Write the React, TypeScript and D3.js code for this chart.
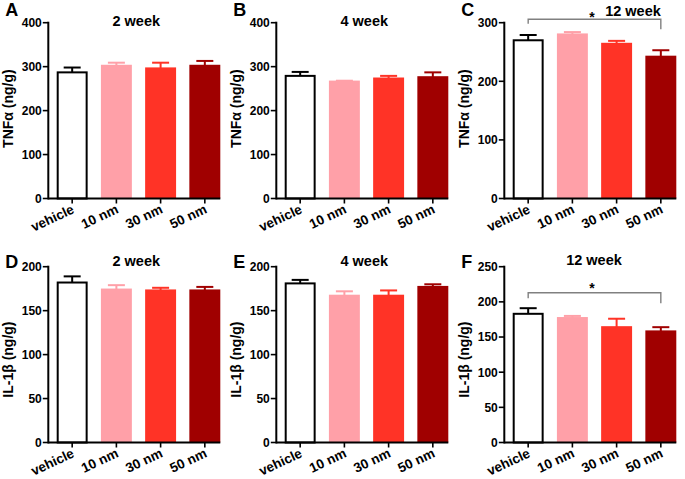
import React from "react";
import * as d3 from "d3";

// ---------- data ----------
const categories = ["vehicle", "10 nm", "30 nm", "50 nm"];
const barColors = ["#ffffff", "#ffa0a8", "#ff3326", "#a00000"];
const errColors = ["#000000", "#ffa0a8", "#ff3326", "#a00000"];

const tnf2Mean = [287, 302, 296, 302];
const tnf2Sem = [11, 7, 13, 11];
const tnf4Mean = [279, 266, 273, 276];
const tnf4Sem = [9, 2, 6, 11];
const tnf12Mean = [270, 280, 264, 242];
const tnf12Sem = [9, 4, 5, 11];

const il2Mean = [182, 174, 173, 173];
const il2Sem = [7, 5, 3, 4];
const il4Mean = [181, 167, 167, 177];
const il4Sem = [4, 5, 6, 3];
const il12Mean = [183, 177, 164, 158];
const il12Sem = [8, 3, 12, 6];

const tnfTicks = [0, 100, 200, 300, 400];
const tnfTicks12 = [0, 100, 200, 300];
const ilTicks = [0, 50, 100, 150, 200];
const ilTicks12 = [0, 50, 100, 150, 200, 250];

const panelLetters = ["A", "B", "C", "D", "E", "F"];
const panelTitles = ["2 week", "4 week", "12 week", "2 week", "4 week", "12 week"];
const yLabels = ["TNFα (ng/g)", "IL-1β (ng/g)"];

// ---------- layout ----------
const W = 685;
const H = 479;
const FONT = "'Liberation Sans', Arial, Helvetica, sans-serif";
const colAxisX = [48.3, 276.3, 504.3];
const rowTop = [22.7, 266.7];
const rowBottom = [198.5, 442.5];
const rowLetterY = [16, 268];
const rowTitleY = [26, 266];

type Panel = {
  letter: string;
  title: string;
  ylabel: string;
  means: number[];
  sems: number[];
  ticks: number[];
  col: number;
  row: number;
  titleDx?: number;
  titleY?: number;
  bracket?: { value: number; dropL: number; dropR: number; starY: number };
};

const panels: Panel[] = [
  { letter: panelLetters[0], title: panelTitles[0], ylabel: yLabels[0], means: tnf2Mean, sems: tnf2Sem, ticks: tnfTicks, col: 0, row: 0 },
  { letter: panelLetters[1], title: panelTitles[1], ylabel: yLabels[0], means: tnf4Mean, sems: tnf4Sem, ticks: tnfTicks, col: 1, row: 0 },
  {
    letter: panelLetters[2], title: panelTitles[2], ylabel: yLabels[0], means: tnf12Mean, sems: tnf12Sem, ticks: tnfTicks12, col: 2, row: 0,
    titleDx: 128.7, titleY: 16,
    bracket: { value: 306, dropL: 4.5, dropR: 10, starY: 21.5 },
  },
  { letter: panelLetters[3], title: panelTitles[3], ylabel: yLabels[1], means: il2Mean, sems: il2Sem, ticks: ilTicks, col: 0, row: 1 },
  { letter: panelLetters[4], title: panelTitles[4], ylabel: yLabels[1], means: il4Mean, sems: il4Sem, ticks: ilTicks, col: 1, row: 1 },
  {
    letter: panelLetters[5], title: panelTitles[5], ylabel: yLabels[1], means: il12Mean, sems: il12Sem, ticks: ilTicks12, col: 2, row: 1,
    titleDx: 89.7, titleY: 265,
    bracket: { value: 213, dropL: 5.5, dropR: 10.5, starY: 292.5 },
  },
];

function PanelChart({ p }: { p: Panel }) {
  const ax = colAxisX[p.col];
  const top = rowTop[p.row];
  const bottom = rowBottom[p.row];
  const yMax = p.ticks[p.ticks.length - 1];
  const y = d3.scaleLinear().domain([0, yMax]).range([bottom, top]);
  const x = d3
    .scaleBand<string>()
    .domain(categories)
    .range([ax, ax + 180.4])
    .paddingInner(0.3)
    .paddingOuter(0.19);
  const bw = x.bandwidth();
  const lastEnd = (x(categories[categories.length - 1]) as number) + bw;
  const cx = (c: string) => (x(c) as number) + bw / 2;
  const capW = 17;

  return (
    <g>
      {/* panel letter */}
      <text x={ax - 43} y={rowLetterY[p.row]} fontFamily={FONT} fontWeight="bold" fontSize={18} fill="#000">
        {p.letter}
      </text>
      {/* title */}
      <text
        x={ax + (p.titleDx ?? 88)}
        y={p.titleY ?? rowTitleY[p.row]}
        textAnchor="middle"
        fontFamily={FONT}
        fontWeight="bold"
        fontSize={14.5}
        fill="#000"
      >
        {p.title}
      </text>
      {/* y label */}
      <text
        transform={`translate(${ax - 35.5},${(top + bottom) / 2 + (p.row === 1 ? 5 : -2)}) rotate(-90)`}
        textAnchor="middle"
        fontFamily={FONT}
        fontWeight="bold"
        fontSize={14}
        fill="#000"
      >
        {p.ylabel}
      </text>
      {/* bars */}
      {categories.map((c, i) => {
        const x0 = x(c) as number;
        const yv = y(p.means[i]);
        if (i === 0) {
          return (
            <rect key={c} x={x0 + 1} y={yv} width={bw - 2} height={bottom - yv} fill={barColors[i]} stroke="#000" strokeWidth={2} />
          );
        }
        return <rect key={c} x={x0} y={yv - 1} width={bw} height={bottom - yv + 1} fill={barColors[i]} />;
      })}
      {/* error bars (upper only) */}
      {categories.map((c, i) => {
        const xc = cx(c);
        const y0 = y(p.means[i]);
        const y1 = y(p.means[i] + p.sems[i]);
        return (
          <g key={"e" + c} stroke={errColors[i]} strokeWidth={2} fill="none">
            <line x1={xc} x2={xc} y1={y0} y2={y1} />
            <line x1={xc - capW / 2} x2={xc + capW / 2} y1={y1} y2={y1} />
          </g>
        );
      })}
      {/* y axis */}
      <line x1={ax} x2={ax} y1={y(yMax) - 1} y2={bottom + 1} stroke="#000" strokeWidth={2} />
      {p.ticks.map((t) => (
        <g key={"t" + t}>
          <line x1={ax - 5.5} x2={ax} y1={y(t)} y2={y(t)} stroke="#000" strokeWidth={1.6} />
          <text
            x={ax - 6.5}
            y={y(t)}
            dy="0.36em"
            textAnchor="end"
            fontFamily={FONT}
            fontWeight="bold"
            fontSize={12}
            fill="#000"
          >
            {t}
          </text>
        </g>
      ))}
      {/* x axis baseline */}
      <line x1={ax} x2={lastEnd} y1={bottom} y2={bottom} stroke="#000" strokeWidth={2} />
      {categories.map((c) => (
        <g key={"x" + c}>
          <line x1={cx(c)} x2={cx(c)} y1={bottom} y2={bottom + 5} stroke="#000" strokeWidth={1.6} />
          <text
            transform={`translate(${cx(c) + 3},${bottom + 14}) rotate(-25)`}
            textAnchor="end"
            fontFamily={FONT}
            fontWeight="bold"
            fontSize={13.5}
            fill="#000"
          >
            {c}
          </text>
        </g>
      ))}
      {/* significance bracket */}
      {p.bracket && (
        <g>
          <path
            d={`M${cx(categories[0])},${y(p.bracket.value) + p.bracket.dropL}V${y(p.bracket.value)}H${cx(categories[3])}V${
              y(p.bracket.value) + p.bracket.dropR
            }`}
            fill="none"
            stroke="#808080"
            strokeWidth={1.4}
          />
          <text
            x={(cx(categories[0]) + cx(categories[3])) / 2 - 2.5}
            y={p.bracket.starY}
            textAnchor="middle"
            fontFamily={FONT}
            fontWeight="bold"
            fontSize={14}
            fill="#000"
          >
            *
          </text>
        </g>
      )}
    </g>
  );
}

export default function App() {
  return (
    <svg
      width={W}
      height={H}
      viewBox={`0 0 ${W} ${H}`}
      style={{ position: "absolute", left: 0, top: 0, background: "#fff" }}
    >
      <rect x={0} y={0} width={W} height={H} fill="#fff" />
      {panels.map((p) => (
        <PanelChart key={p.letter} p={p} />
      ))}
    </svg>
  );
}
